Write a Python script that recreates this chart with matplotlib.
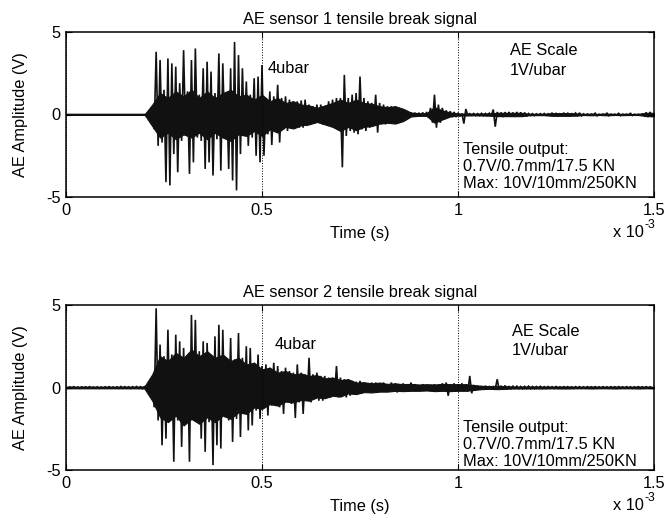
import numpy as np
import matplotlib
matplotlib.use("Agg")
import matplotlib.pyplot as plt

plt.rcParams['font.family'] = ['Liberation Sans', 'DejaVu Sans']

# ---------------- data ----------------
dt = 5e-6       # spike-trace sample spacing in seconds
dt_env = 2e-5   # spacing of the dense-core envelope samples in seconds
titles = ["AE sensor 1 tensile break signal", "AE sensor 2 tensile break signal"]
xticks = [0, 0.5e-3, 1.0e-3, 1.5e-3]
xtick_labels = ["0", "0.5", "1", "1.5"]
yticks = [-5, 0, 5]
ytick_labels = ["-5", "0", "5"]

# oscillation samples (V)
sensor1 = [
    0.0, 0.0, 0.0, 0.0, 0.0, 0.0, 0.0, 0.0, 0.0, 0.0, 0.0, 0.0, 0.0, 0.0, 0.0, 0.0, 0.0, 0.0, 0.0, 0.0,
    0.0, 0.0, 0.0, 0.0, 0.0, 0.0, 0.0, 0.0, 0.0, 0.0, 0.0, 0.0, 0.0, 0.0, 0.0, 0.0, 0.0, 0.0, 0.0, 0.0,
    0.0, 0.0, 0.03, -0.15, 0.4, -0.9, 3.8, -1.9, 3.3, -1.7, 1.5, -4.1, 3.4, -4.3, 3.1, -2.4, 2.9, -3.5, 1.9, -1.6,
    3.9, -1.3, 1.4, -3.6, 3.3, -2.9, 4.0, -1.4, 1.2, -1.6, 2.8, -3.3, 3.2, -2.9, 2.6, -3.7, 1.3, -1.5, 3.7, -3.4,
    3.1, -1.4, 1.3, -3.3, 2.8, -4.0, 4.4, -4.6, 3.6, -2.4, 2.8, -1.3, 2.0, -1.9, 1.2, -1.4, 2.2, -2.5, 2.3, -2.9,
    3.0, -2.5, 1.0, -1.2, 1.4, -1.85, 1.1, -0.9, 1.8, -1.7, 1.0, -0.9, 1.1, -1.0, 0.9, -0.8, 0.8, -0.7, 0.8, -0.8,
    0.85, -0.8, 0.9, -0.7, 0.6, -0.6, 0.5, -0.55, 0.6, -0.5, 0.6, -0.6, 0.5, -0.6, 0.8, -0.7, 0.9, -0.8, 1.0, -0.9,
    1.0, -3.2, 2.4, -1.3, 1.0, -1.0, 1.2, -1.1, 1.3, -1.2, 2.3, -0.9, 1.0, -1.0, 0.8, -0.8, 0.7, -0.6, 1.2, -1.1,
    0.7, -0.6, 0.6, -0.6, 0.5, -0.5, 0.5, -0.5, 0.5, -0.45, 0.4, -0.4, 0.3, -0.3, 0.2, -0.15, 0.12, -0.12, 0.1, -0.1,
    0.1, -0.1, 0.12, -0.1, 0.15, -0.2, 0.4, -0.5, 1.2, -0.8, 0.6, -0.5, 0.4, -0.3, 0.25, -0.2, 0.2, -0.15, 0.15, -0.15,
    0.1, -0.08, 0.05, -0.55, 0.33, -0.06, 0.05, -0.05, 0.06, -0.06, 0.05, -0.06, 0.07, -0.07, 0.06, -0.06, 0.08, -0.08, 0.3, -0.74,
    0.15, -0.12, 0.12, -0.15, 0.14, -0.12, 0.15, -0.13, 0.12, -0.14, 0.15, -0.12, 0.13, -0.14, 0.12, -0.12, 0.06, -0.05, 0.05, -0.06,
    0.04, -0.04, 0.05, -0.04, 0.06, -0.05, 0.04, -0.05, 0.10, -0.10, 0.09, -0.10, 0.04, -0.04, 0.10, -0.09, 0.10, -0.10, 0.05, -0.04,
    0.09, -0.10, 0.10, -0.08, 0.04, -0.03, 0.03, -0.03, 0.02, -0.02, 0.08, -0.08, 0.02, -0.02, 0.03, -0.03, 0.08, -0.07, 0.02, -0.02,
    0.02, -0.02, 0.07, -0.07, 0.02, -0.02, 0.02, -0.02, 0.07, -0.06, 0.02, -0.02, 0.02, -0.02, 0.03, -0.03, 0.12, -0.15, 0.15, -0.12,
]

sensor2 = [
    0.03, -0.04, 0.04, -0.03, 0.05, -0.04, 0.03, -0.05, 0.04, -0.03, 0.04, -0.04, 0.05, -0.03, 0.03, -0.04, 0.04, -0.05, 0.03, -0.04,
    0.04, -0.03, 0.05, -0.04, 0.03, -0.04, 0.04, -0.05, 0.06, -0.04, 0.05, -0.04, 0.04, -0.06, 0.05, -0.04, 0.06, -0.05, 0.05, -0.06,
    0.05, -0.08, 0.15, -0.3, 0.5, -1.2, 4.8, -2.0, 2.6, -3.5, 1.9, -3.1, 3.5, -1.8, 2.0, -4.5, 3.2, -2.0, 2.8, -3.6,
    2.4, -2.1, 1.9, -4.5, 4.4, -2.0, 4.1, -1.9, 2.2, -3.1, 2.8, -3.9, 2.7, -2.1, 1.8, -4.7, 3.1, -3.5, 3.8, -3.7,
    3.5, -1.8, 1.6, -2.0, 3.0, -3.3, 1.7, -1.9, 3.3, -3.0, 1.8, -1.6, 2.5, -2.6, 2.4, -2.3, 1.5, -1.4, 2.0, -1.9,
    1.3, -1.2, 1.4, -1.7, 1.2, -1.1, 1.5, -1.0, 1.3, -1.2, 1.0, -1.6, 1.2, -0.9, 1.0, -1.0, 0.9, -1.85, 1.4, -0.9,
    0.9, -1.6, 0.8, -0.8, 1.8, -0.9, 0.8, -0.7, 0.9, -0.8, 0.7, -0.8, 0.7, -0.6, 0.6, -0.6, 0.6, -0.5, 1.3, -0.6,
    0.6, -0.5, 0.5, -0.6, 0.5, -0.5, 0.4, -0.4, 0.35, -0.3, 0.4, -0.35, 0.3, -0.3, 0.25, -0.3, 0.3, -0.25, 0.3, -0.3,
    0.25, -0.2, 0.3, -0.25, 0.2, -0.25, 0.3, -0.2, 0.25, -0.3, 0.2, -0.2, 0.25, -0.2, 0.2, -0.25, 0.3, -0.2, 0.2, -0.2,
    0.15, -0.15, 0.2, -0.15, 0.15, -0.2, 0.15, -0.15, 0.2, -0.2, 0.15, -0.2, 0.25, -0.2, 0.3, -0.5, 0.2, -0.2, 0.25, -0.2,
    0.2, -0.2, 0.25, -0.2, 0.2, -0.25, 0.7, -0.35, 0.15, -0.15, 0.1, -0.1, 0.08, -0.08, 0.1, -0.08, 0.08, -0.08, 0.08, -0.1,
    0.5, -0.12, 0.1, -0.1, 0.12, -0.1, 0.08, -0.1, 0.1, -0.08, 0.08, -0.07, 0.06, -0.08, 0.07, -0.06, 0.08, -0.07, 0.06, -0.06,
    0.06, -0.05, 0.07, -0.06, 0.05, -0.06, 0.06, -0.05, 0.05, -0.06, 0.06, -0.05, 0.04, -0.05, 0.05, -0.04, 0.05, -0.05, 0.04, -0.05,
    0.05, -0.04, 0.05, -0.05, 0.04, -0.04, 0.05, -0.04, 0.04, -0.05, 0.05, -0.04, 0.04, -0.04, 0.05, -0.04, 0.04, -0.05, 0.05, -0.04,
    0.04, -0.05, 0.05, -0.04, 0.04, -0.04, 0.05, -0.04, 0.04, -0.05, 0.04, -0.04, 0.05, -0.05, 0.04, -0.04, 0.05, -0.04, 0.04, -0.05,
]

# dense (solid black) core of the oscillation, upper and lower edges (V), every 0.02 ms
core1_upper = [
    0.0, 0.0, 0.0, 0.0, 0.0, 0.0, 0.0, 0.0, 0.0, 0.0, 0.0,
    0.6, 1.3, 1.0, 1.4, 1.1, 1.5, 1.0, 1.4, 1.0, 1.3, 1.5, 1.1, 1.2, 0.9,
    1.2, 0.8, 1.0, 0.7, 0.8, 0.6, 0.55, 0.4, 0.55, 0.7,
    0.9, 0.7, 0.9, 0.7, 0.65, 0.5, 0.45, 0.5, 0.35, 0.12,
    0.08, 0.08, 0.45, 0.25, 0.12, 0.06, 0.06, 0.05, 0.06, 0.07,
    0.1, 0.1, 0.1, 0.1, 0.05, 0.04, 0.04, 0.08, 0.08, 0.08,
    0.07, 0.03, 0.05, 0.03, 0.05, 0.03, 0.04, 0.03, 0.03, 0.1, 0.1,
]
core1_lower = [
    0.0, 0.0, 0.0, 0.0, 0.0, 0.0, 0.0, 0.0, 0.0, 0.0, 0.0,
    -0.7, -1.4, -1.1, -1.5, -1.2, -1.4, -1.1, -1.5, -1.1, -1.4, -1.6, -1.2, -1.3, -1.0,
    -1.3, -0.9, -1.1, -0.75, -0.85, -0.65, -0.6, -0.45, -0.6, -0.75,
    -1.0, -0.75, -0.95, -0.75, -0.7, -0.55, -0.5, -0.55, -0.4, -0.12,
    -0.08, -0.08, -0.5, -0.3, -0.12, -0.06, -0.06, -0.05, -0.06, -0.07,
    -0.1, -0.1, -0.1, -0.1, -0.05, -0.04, -0.04, -0.08, -0.08, -0.08,
    -0.07, -0.03, -0.05, -0.03, -0.05, -0.03, -0.04, -0.03, -0.03, -0.1, -0.1,
]
core2_upper = [
    0.05, 0.05, 0.05, 0.05, 0.05, 0.05, 0.05, 0.05, 0.05, 0.05, 0.06,
    0.8, 1.9, 1.6, 2.1, 1.8, 2.3, 1.9, 2.2, 1.8, 2.0, 1.6, 1.8, 1.4, 1.5,
    1.1, 1.2, 0.9, 1.0, 0.8, 0.85, 0.7, 0.75, 0.55, 0.6,
    0.45, 0.5, 0.3, 0.32, 0.25, 0.3, 0.22, 0.25, 0.2, 0.22,
    0.18, 0.2, 0.18, 0.22, 0.2, 0.2, 0.2, 0.15, 0.1, 0.08,
    0.1, 0.08, 0.06, 0.06, 0.06, 0.06, 0.06, 0.05, 0.06, 0.06,
    0.05, 0.05, 0.06, 0.05, 0.05, 0.06, 0.05, 0.05, 0.06, 0.05, 0.05,
]
core2_lower = [
    -0.05, -0.05, -0.05, -0.05, -0.05, -0.05, -0.05, -0.05, -0.05, -0.05, -0.06,
    -0.8, -1.8, -2.1, -1.7, -2.3, -1.9, -2.2, -1.8, -2.1, -1.7, -1.9, -1.5, -1.6, -1.2,
    -1.3, -1.0, -1.1, -0.85, -0.9, -0.75, -0.8, -0.6, -0.65, -0.5,
    -0.55, -0.35, -0.4, -0.28, -0.3, -0.25, -0.25, -0.2, -0.22, -0.2,
    -0.2, -0.18, -0.22, -0.2, -0.22, -0.2, -0.2, -0.15, -0.1, -0.08,
    -0.1, -0.08, -0.06, -0.06, -0.06, -0.06, -0.06, -0.05, -0.06, -0.06,
    -0.05, -0.05, -0.06, -0.05, -0.05, -0.06, -0.05, -0.05, -0.06, -0.05, -0.05,
]

signals = [sensor1, sensor2]
cores = [(core1_upper, core1_lower), (core2_upper, core2_lower)]
# annotation anchor positions (data coords: seconds, volts)
ubar_pos = [(0.515e-3, 2.8), (0.533e-3, 2.6)]
scale_pos = [(1.133e-3, 3.85, 2.64), (1.137e-3, 3.42, 2.27)]
tensile_pos = [(1.013e-3, -2.15, -3.18, -4.2), (1.013e-3, -2.4, -3.45, -4.5)]

FS = 11.8
INK = '#111111'

fig = plt.figure(figsize=(6.68, 5.25), dpi=100)
axes_rects = [
    [66 / 668, 1 - 197 / 525, 588 / 668, 165 / 525],
    [66 / 668, 1 - 470 / 525, 588 / 668, 165 / 525],
]

for i, (rect, sig) in enumerate(zip(axes_rects, signals)):
    ax = fig.add_axes(rect)
    up, lo = cores[i]
    te = np.arange(len(up)) * dt_env
    ax.fill_between(te, np.array(lo), np.array(up), color=INK, lw=0.8, edgecolor=INK)
    y = np.array(sig)
    t = np.arange(len(y)) * dt
    ax.plot(t, y, color=INK, lw=1.2, solid_joinstyle='miter')
    ax.set_xlim(0, 1.5e-3)
    ax.set_ylim(-5, 5)
    ax.set_xticks(xticks)
    ax.set_xticklabels(xtick_labels, fontsize=FS)
    ax.set_yticks(yticks)
    ax.set_yticklabels(ytick_labels, fontsize=FS)
    ax.tick_params(direction='in', top=True, right=True, length=4, width=0.8, pad=4)
    ax.xaxis.grid(True, linestyle=':', color='black', lw=0.7)
    ax.set_axisbelow(False)
    for sp in ax.spines.values():
        sp.set_linewidth(1.1)
    ax.set_title(titles[i], fontsize=FS, pad=6)
    ax.set_xlabel("Time (s)", fontsize=FS, labelpad=6)
    ax.set_ylabel("AE Amplitude (V)", fontsize=FS, labelpad=13)
    ax.text(0.982, -0.215, "x 10", transform=ax.transAxes, ha='right', va='center',
            fontsize=FS)
    ax.text(0.983, -0.17, "-3", transform=ax.transAxes, ha='left', va='center',
            fontsize=FS * 0.75)
    ux, uy = ubar_pos[i]
    ax.text(ux, uy, "4ubar", fontsize=FS, va='center', ha='left')
    sx, sy1, sy2 = scale_pos[i]
    ax.text(sx, sy1, "AE Scale", fontsize=FS, va='center', ha='left')
    ax.text(sx, sy2, "1V/ubar", fontsize=FS, va='center', ha='left')
    tx, ty1, ty2, ty3 = tensile_pos[i]
    ax.text(tx, ty1, "Tensile output:", fontsize=FS, va='center', ha='left')
    ax.text(tx, ty2, "0.7V/0.7mm/17.5 KN", fontsize=FS, va='center', ha='left')
    ax.text(tx, ty3, "Max: 10V/10mm/250KN", fontsize=FS, va='center', ha='left')

fig.savefig("out.png", dpi=100)
